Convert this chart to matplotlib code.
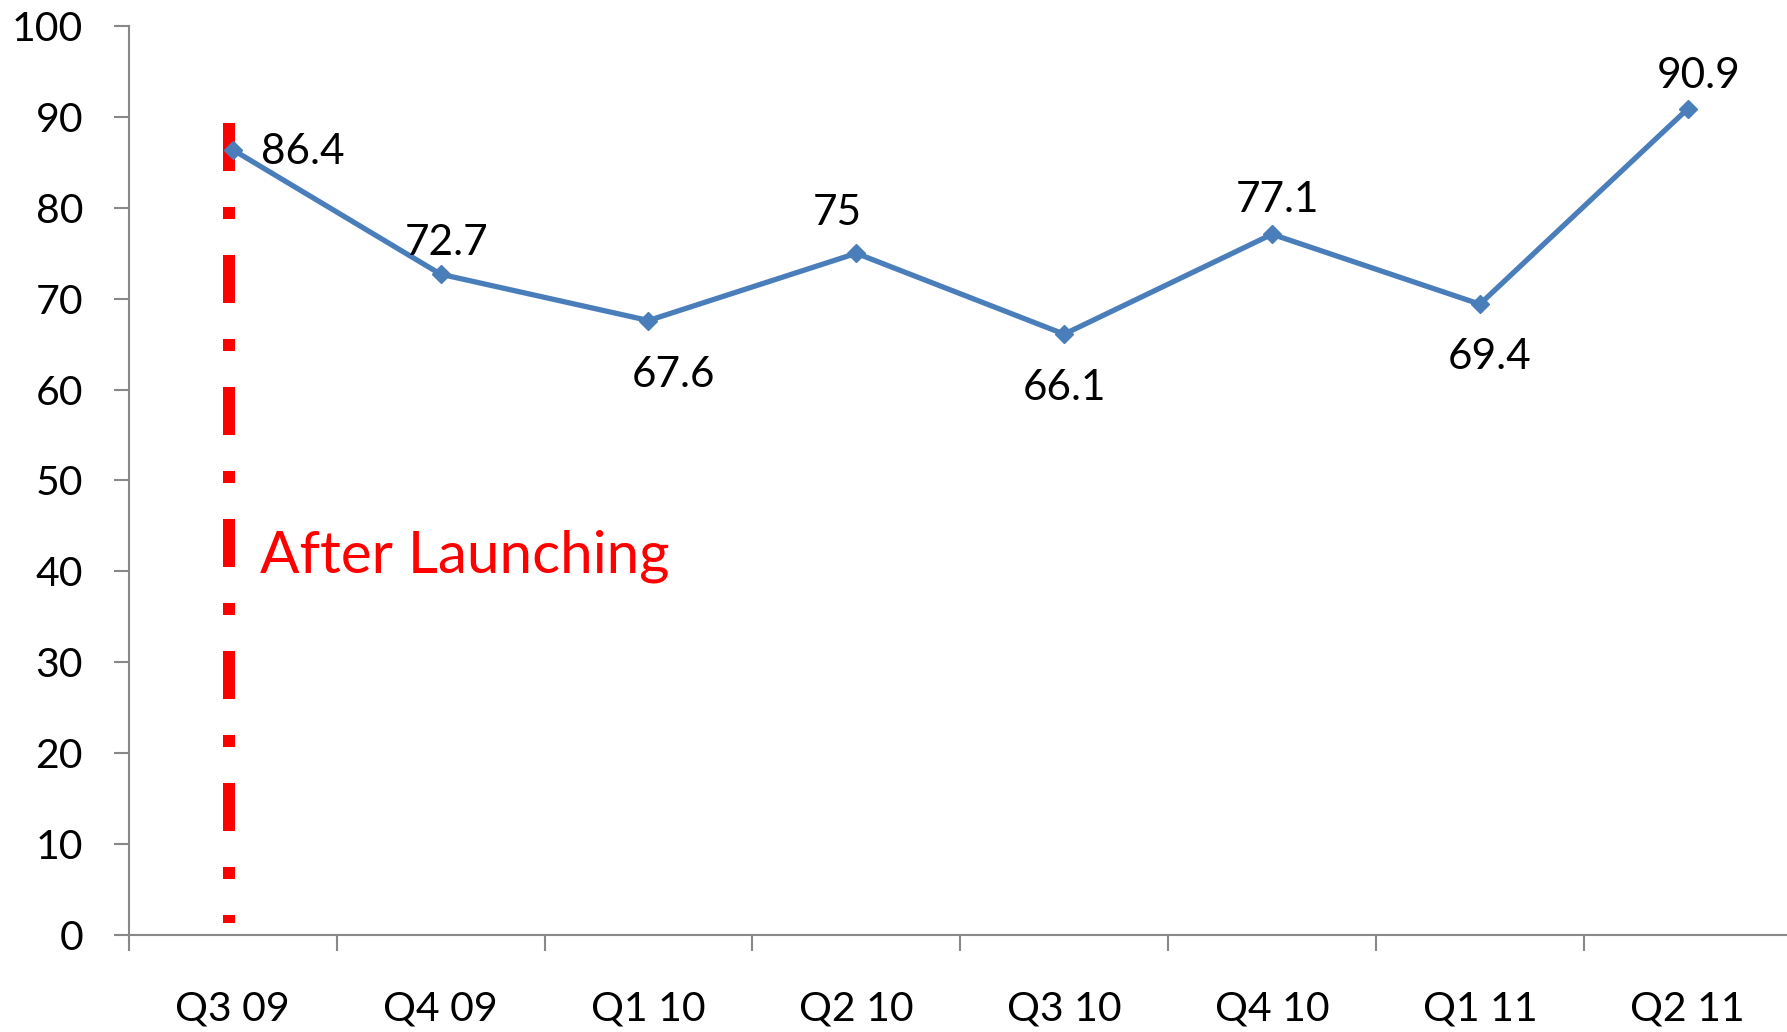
import matplotlib
matplotlib.use('Agg')
import matplotlib.pyplot as plt
import numpy as np

plt.rcParams['font.family'] = ['Lato', 'DejaVu Sans']

quarters = ['Q3 09', 'Q4 09', 'Q1 10', 'Q2 10', 'Q3 10', 'Q4 10', 'Q1 11', 'Q2 11']
values = [86.4, 72.7, 67.6, 75, 66.1, 77.1, 69.4, 90.9]
launch_label = 'After Launching'

# label offsets in pixels (dx, dy), manual like the original
offsets = [(28, -2), (6, 31), (25, -54), (-19, 40), (0, -54), (5, 34), (10, -53), (11, 33)]

fig = plt.figure(figsize=(17.87, 10.32), dpi=100)
ax = fig.add_axes([0.0721, 0.0944, 0.9305, 0.8802])

x = np.arange(len(quarters))
ax.plot(x, values, color='#4a7ebb', lw=3.8, marker='D', ms=9, zorder=3)

for i, v in enumerate(values):
    dx, dy = offsets[i]
    ha = 'left' if i == 0 else 'center'
    ax.annotate(f'{v:g}', (i, v), textcoords='offset pixels', xytext=(dx, dy),
                ha=ha, va='center', fontsize=30.5, color='black')

# launch marker
ax.plot([-0.02, -0.02], [89.3, 1.3], color='red', lw=8.64,
        linestyle=(0, (4, 3, 1, 3)), dash_capstyle='butt', zorder=2)
ax.text(0.13, 41.6, launch_label, color='red', fontsize=42, va='center', ha='left')

ax.set_xlim(-0.5, len(quarters) - 0.5)
ax.set_ylim(0, 100)
ax.set_yticks(np.arange(0, 101, 10))
ax.set_xticks(x)
ax.set_xticklabels(quarters)
ax.set_xticks(np.arange(-0.5, len(quarters)), minor=True)

for s in ['top', 'right']:
    ax.spines[s].set_visible(False)
for s in ['left', 'bottom']:
    ax.spines[s].set_color('#888888')
    ax.spines[s].set_linewidth(1.5)

ax.tick_params(axis='y', length=11, width=1.5, color='#888888', labelsize=29.5, pad=22)
ax.tick_params(axis='x', which='major', length=0, labelsize=29.5, pad=40)
ax.tick_params(axis='x', which='minor', length=11.5, width=1.5, color='#888888')

fig.savefig('out.png', dpi=100)
